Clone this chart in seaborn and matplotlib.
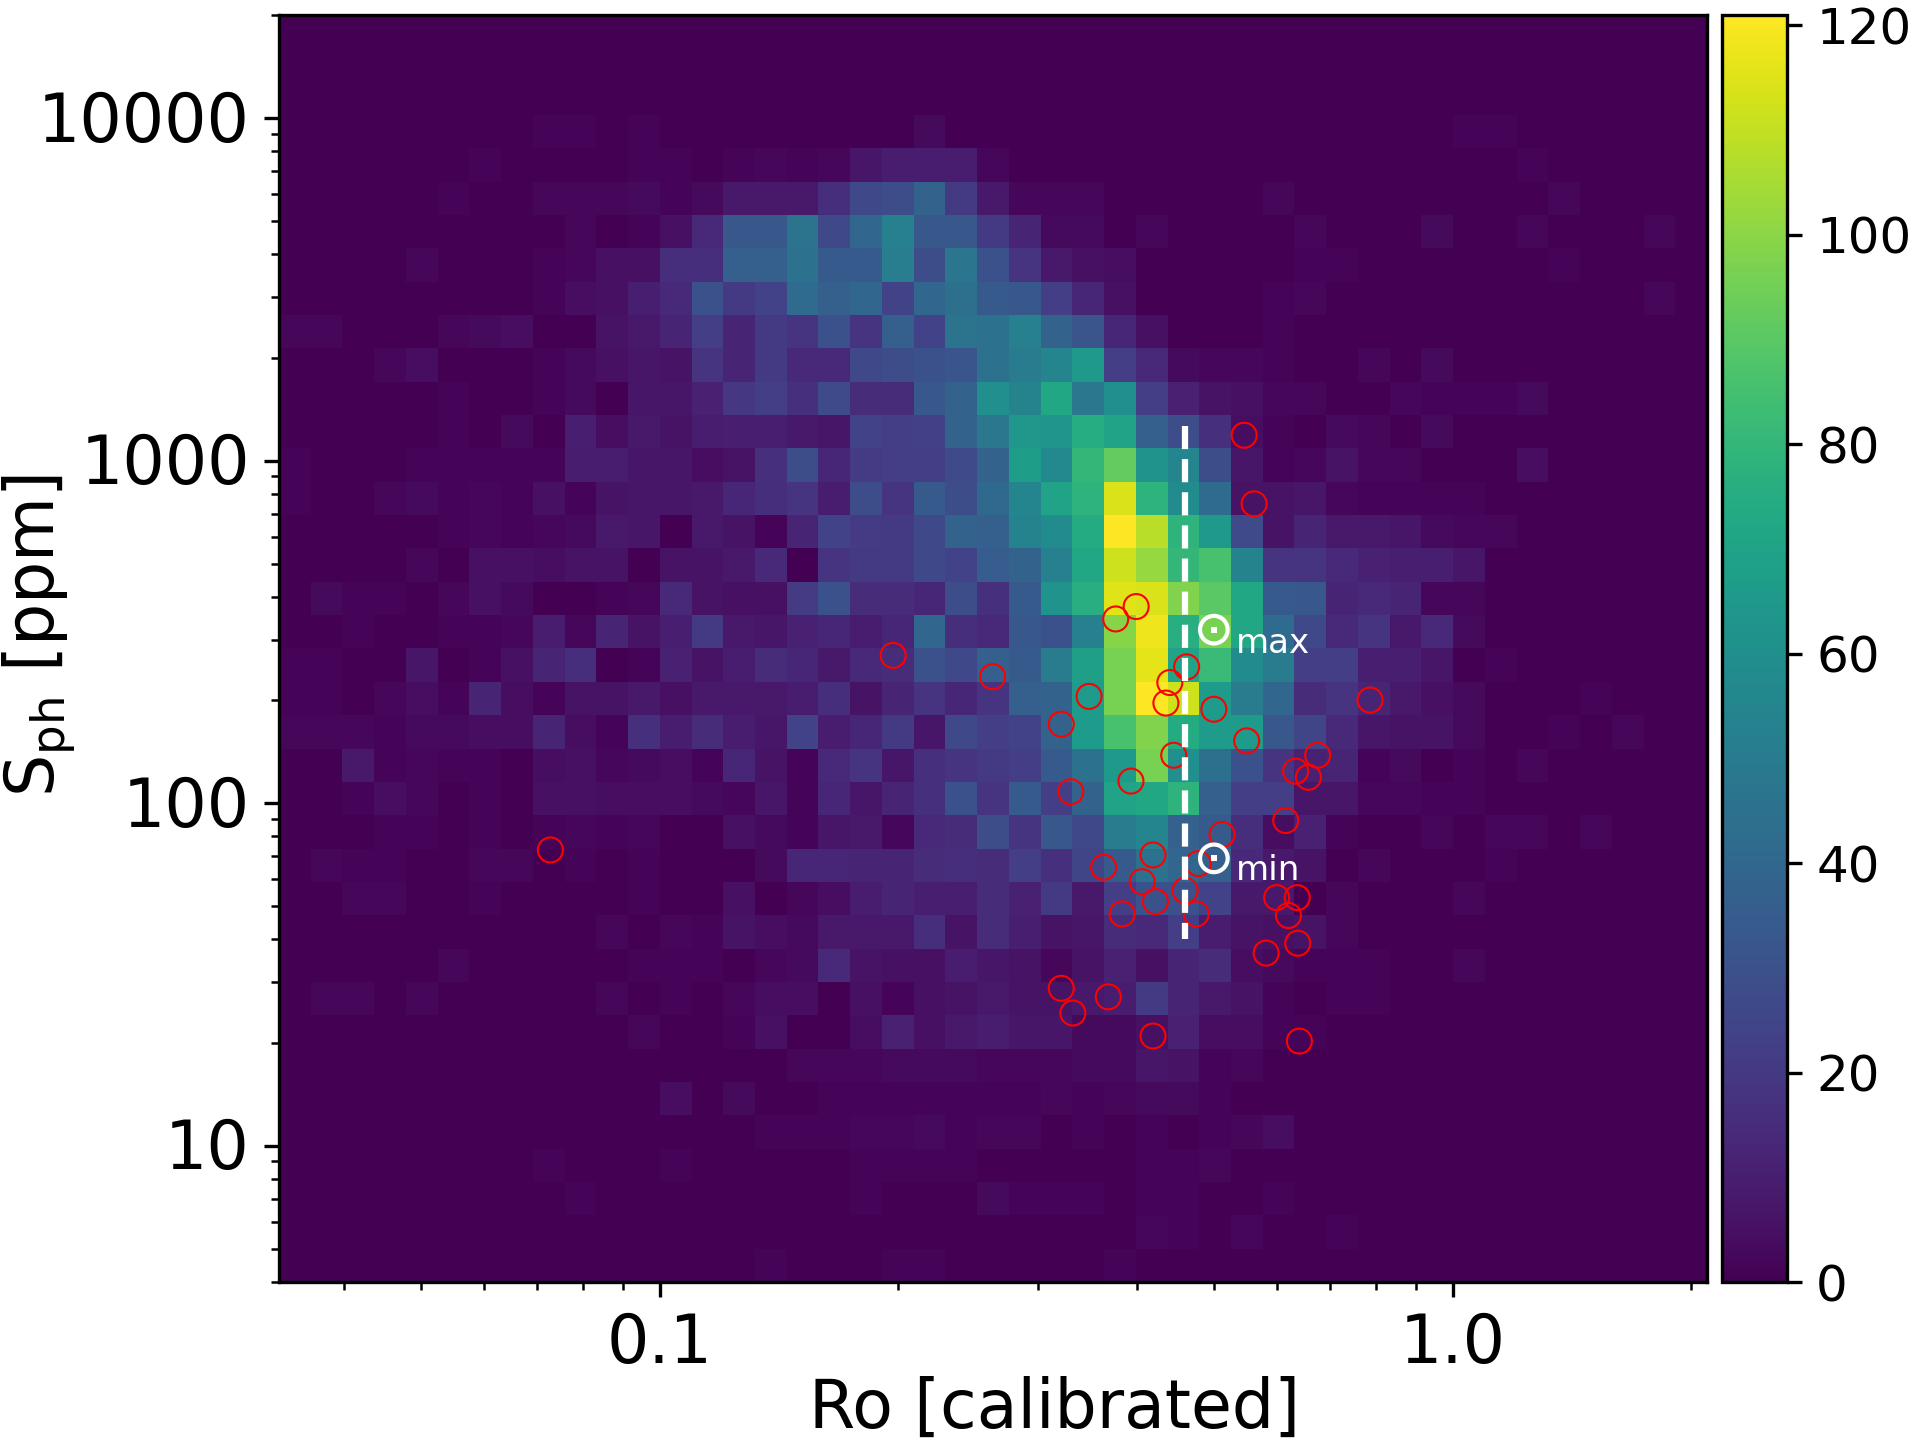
import numpy as np
import pandas as pd
import matplotlib
matplotlib.use("Agg")
import matplotlib.pyplot as plt
from matplotlib.ticker import FixedLocator, FixedFormatter, NullFormatter, LogLocator
from matplotlib.transforms import ScaledTranslation
import seaborn as sns

X_LIM = (0.0331, 2.094)
Y_LIM = (4.0, 20000.0)
N_COLS = 45

COUNT_ROWS = [
 [],
 [],
 [],
 [0,0,0,0,0,0,0,0,1,1,0,1,0,0,0,0,0,0,0,0,3,0,0, 0,0,0,0,0,0,0,0,0,0,0,0,0,0,1,1],
 [0,0,0,0,0,0,1,0,0,0,0,1,1,0,1,2,1,2,7,9,9,9,2, 0,0,0,0,0,0,0,0,0,0,0,0,0,0,0,0,1],
 [0,0,0,0,0,1,0,0,2,2,2,3,1,3,8,8,8,16,26,28,38,20,8, 2,2,2,0,0,0,0,0,2,0,0,0,0,0,0,0,0,2],
 [0,0,0,0,0,0,0,0,0,2,0,1,5,14,33,33,46,26,40,52,33,33,20, 12,3,3,0,2,0,0,0,0,2,0,0,0,3,0,0,2,0,0,0,2],
 [0,0,0,0,2,0,0,0,1,2,5,5,16,16,36,36,45,34,34,51,28,47,30, 18,8,5,4,0,0,0,0,0,1,1,0,0,0,0,0,0,1],
 [0,0,0,0,0,0,0,0,1,4,5,10,14,30,20,24,42,36,40,24,40,44,34, 33,22,13,5,0,0,0,0,1,2,0,0,0,0,0,0,0,0,0,0,2],
 [2,2,0,0,0,2,3,4,0,0,6,8,12,22,12,20,18,30,18,36,24,46,45, 52,38,32,13,5,0,0,0,1],
 [0,0,0,2,4,0,0,0,1,3,5,7,6,18,12,20,14,14,26,28,30,32,45, 50,55,65,22,14,3,2,2,1,0,0,2,0,3],
 [0,0,0,0,0,1,0,0,1,3,0,7,7,11,19,22,17,27,15,15,33,38,60, 54,72,48,60,22,11,6,5,2,2,0,0,2,1,1,1,3],
 [0,0,0,0,0,1,0,3,0,10,4,8,6,9,10,10,8,7,24,22,23,38,48, 64,63,75,70,36,28,17,4,1,0,3,2,0,3],
 [1,0,0,0,1,1,1,1,1,9,9,7,7,4,6,17,28,13,21,22,22,27,38, 67,57,80,92,62,55,28,7,1,2,6,2,2,0,0,0,4],
 [1,0,0,2,3,1,2,1,5,1,6,7,7,8,13,16,18,9,28,18,34,28,41, 55,70,78,114,78,58,42,6,6,7,2,1,1,1,1],
 [0,0,0,0,0,1,2,1,2,3,8,7,0,8,6,1,12,24,21,20,26,38,36, 54,58,74,121,108,78,65,27,6,12,8,8,7,3,2,2],
 [0,0,0,0,2,0,5,5,4,6,6,0,6,6,8,14,0,18,20,20,26,24,35, 38,52,72,112,102,80,86,54,18,18,14,11,10,10,7],
 [0,3,1,1,0,2,5,3,0,0,1,2,14,6,5,5,21,30,15,15,13,28,17, 34,62,76,115,114,98,90,72,34,33,12,14,12,2,2],
 [0,0,1,0,0,1,1,2,9,2,12,6,10,20,8,7,11,13,9,13,40,16,14, 33,30,52,99,118,76,96,72,42,26,14,18,8,14,3],
 [1,1,0,0,7,0,1,5,12,16,0,1,11,6,9,15,13,8,14,15,30,26,36, 34,50,68,96,116,70,82,58,50,22,22,10,10,7,0,1],
 [1,1,0,2,4,1,12,4,1,6,6,8,5,8,8,8,9,16,6,12,18,13,18, 36,38,66,96,121,112,66,50,40,15,18,12,8,5,3,0,0,0,1],
 [2,2,2,1,3,3,4,4,12,4,1,17,9,15,9,7,24,9,13,20,7,26,22, 24,38,66,86,98,74,66,66,33,25,14,7,6,6,3,0,0,1,0,2],
 [0,0,8,1,2,1,1,0,4,5,2,3,4,1,13,6,1,14,18,7,17,18,20, 22,34,45,65,96,60,44,30,18,11,12,1,3,0,1,0,2],
 [0,0,1,4,2,0,1,0,5,5,4,4,4,3,2,7,1,13,7,12,17,30,18, 34,22,38,70,72,78,36,22,22,7,7,2,2,1,1],
 [0,0,0,1,1,0,1,0,1,2,1,2,0,0,5,3,1,7,8,2,14,15,28, 18,33,26,50,55,37,34,16,4,11,1,0,0,2,0,2,2,0,2],
 [0,2,1,1,0,0,2,2,0,1,0,1,0,0,0,3,13,13,12,12,15,16,15, 22,17,25,34,45,40,36,14,8,6,0,2,0,0,0,1],
 [0,0,2,2,0,0,1,0,0,0,0,1,0,0,5,0,2,4,9,12,10,10,15, 11,20,8,22,30,30,24,8,8,0,2,0,0,0,2],
 [0,0,0,0,0,0,0,0,0,0,2,0,2,1,6,4,3,8,8,8,16,6,15, 10,6,7,15,14,22,9,6,5,6,2],
 [0,0,0,0,0,2,0,0,0,0,0,1,1,1,0,2,3,14,6,5,5,9,7, 6,2,6,11,5,12,15,4,3,1,1,1,0,0,2],
 [0,2,2,0,2,0,0,0,0,0,2,0,1,0,2,4,4,0,5,1,5,6,8, 6,6,8,9,20,12,8,6,1,0,1,1],
 [0,0,0,0,0,0,0,0,0,0,0,2,0,0,1,5,0,0,4,11,5,8,9, 7,7,3,3,5,11,4,4,1,1],
 [0,0,0,0,0,0,0,0,0,0,0,0,0,0,0,0,2,2,2,3,3,3,2, 2,2,3,3,7,6,1,2],
 [0,0,0,0,0,0,0,0,0,0,0,0,4,0,3,0,0,1,1,1,1,1,1, 1,2,1,2,3,3,1],
 [0,0,0,0,0,0,0,0,0,0,0,0,0,0,0,1,1,1,2,2,3,1,2, 2,0,1,0,1,0,1,2,4],
 [0,0,0,0,0,0,0,0,1,0,0,0,1,0,0,0,0,0,1,1,1,1,0, 0,0,0,0,1,1,2],
 [0,0,0,0,0,0,0,0,0,1,0,0,0,0,0,0,0,0,1,0,0,0,3, 1,1,1,0,1,1,0,0,1],
 [0,0,0,0,0,0,0,0,0,0,0,0,0,0,0,0,0,0,0,0,0,0,0, 0,0,0,0,2,1,0,2,0,0,1],
 [0,0,0,0,0,0,0,0,0,0,0,0,0,0,0,1,0,0,0,1,1,0,0, 0,0,0,1],
]

STAR_RO = [0.546,0.562,0.197,0.263,0.376,0.399,0.440,0.435,0.462,0.500,0.348,0.321,0.787,0.550,
           0.445,0.676,0.634,0.658,0.393,0.330,0.616,0.512,0.419,0.0728,0.363,0.478,0.406,0.460,
           0.422,0.383,0.475,0.600,0.637,0.621,0.638,0.582,0.321,0.368,0.332,0.419,0.641]
STAR_SPH = [1186,748,270,234,345,375,225,196,250,188,205,170,200,152,
            138,138,124,119,116,108,89,81,70.6,73,65,66.6,59,55.6,
            51.6,47.5,47.5,53,53,47,39,36.5,28.8,27.2,24.4,20.9,20.2]

SUN_RO = [0.5, 0.5]
SUN_SPH = [321, 69]
SUN_LABELS = ["max", "min"]
LABEL_RO = [0.533, 0.533]
LABEL_SPH = [274, 59.6]
VLINE_RO = 0.46
VLINE_SPH = [1265, 40]

plt.rcParams["font.family"] = "DejaVu Sans"
W, H = 1920, 1440
fig = plt.figure(figsize=(W / 300, H / 300), dpi=300)
ax = fig.add_axes([279 / W, 1 - 1282 / H, (1707 - 279) / W, (1282 - 15) / H])
cax = fig.add_axes([1722 / W, 1 - 1282 / H, (1787 - 1722) / W, (1282 - 15) / H])

counts = np.array([r + [0] * (N_COLS - len(r)) for r in COUNT_ROWS], dtype=float)
n_rows = counts.shape[0]
lx = np.log10(X_LIM)
ly = np.log10(Y_LIM)
x_edges = np.linspace(lx[0], lx[1], N_COLS + 1)
y_edges = np.linspace(ly[1], ly[0], n_rows + 1)
x_cent = 10 ** ((x_edges[:-1] + x_edges[1:]) / 2)
y_cent = 10 ** ((y_edges[:-1] + y_edges[1:]) / 2)
xx, yy = np.meshgrid(x_cent, y_cent)
df = pd.DataFrame({"Ro": xx.ravel(), "Sph": yy.ravel(), "n": counts.ravel()})

sns.histplot(data=df, x="Ro", y="Sph", weights="n", bins=(N_COLS, n_rows),
             binrange=(tuple(lx), tuple(ly)), log_scale=(True, True), cmap="viridis",
             vmin=0, vmax=121, thresh=None, cbar=True, cbar_ax=cax, ax=ax)

sns.scatterplot(x=STAR_RO, y=STAR_SPH, ax=ax, marker="o", s=36, facecolor="none",
                edgecolor="red", linewidth=0.5, zorder=4, legend=False)
sns.lineplot(x=[VLINE_RO, VLINE_RO], y=VLINE_SPH, ax=ax, color="white", lw=1.5, ls="--",
             sort=False, estimator=None, zorder=5, legend=False)
sns.scatterplot(x=SUN_RO, y=SUN_SPH, ax=ax, marker="o", s=44, facecolor="none",
                edgecolor="white", linewidth=1.0, zorder=6, legend=False)
sns.scatterplot(x=SUN_RO, y=SUN_SPH, ax=ax, marker="s", s=2.4, color="white",
                linewidth=0, zorder=6, legend=False)
for rx, ry, lab in zip(LABEL_RO, LABEL_SPH, SUN_LABELS):
    ax.text(rx, ry, lab, color="white", fontsize=8.2, va="baseline", ha="left", zorder=7)

ax.set_xlim(*X_LIM)
ax.set_ylim(*Y_LIM)
ax.xaxis.set_major_locator(FixedLocator([0.1, 1.0]))
ax.xaxis.set_major_formatter(FixedFormatter(["0.1", "1.0"]))
ax.xaxis.set_minor_locator(LogLocator(base=10, subs=np.arange(2, 10), numticks=12))
ax.xaxis.set_minor_formatter(NullFormatter())
ax.yaxis.set_major_locator(FixedLocator([10, 100, 1000, 10000]))
ax.yaxis.set_major_formatter(FixedFormatter(["10", "100", "1000", "10000"]))
ax.yaxis.set_minor_locator(LogLocator(base=10, subs=np.arange(2, 10), numticks=12))
ax.yaxis.set_minor_formatter(NullFormatter())
ax.tick_params(axis="both", which="major", labelsize=16)
ax.set_xlabel("Ro [calibrated]", fontsize=16, labelpad=-0.35, x=0.5434)
ax.set_ylabel(r"S$_{\mathrm{ph}}$ [ppm]", fontsize=16)
ax.yaxis.set_label_coords(-0.1407, 0.5103)

cax.set_yticks([0, 20, 40, 60, 80, 100, 120])
cax.tick_params(labelsize=12)

for axis, shift in ((ax.yaxis, 0.6), (cax.yaxis, 0.4)):
    for tick in axis.get_major_ticks():
        tick.label1.set_transform(tick.label1.get_transform()
                                  + ScaledTranslation(0, shift / 72, fig.dpi_scale_trans))

fig.savefig("out.png", dpi=300)
